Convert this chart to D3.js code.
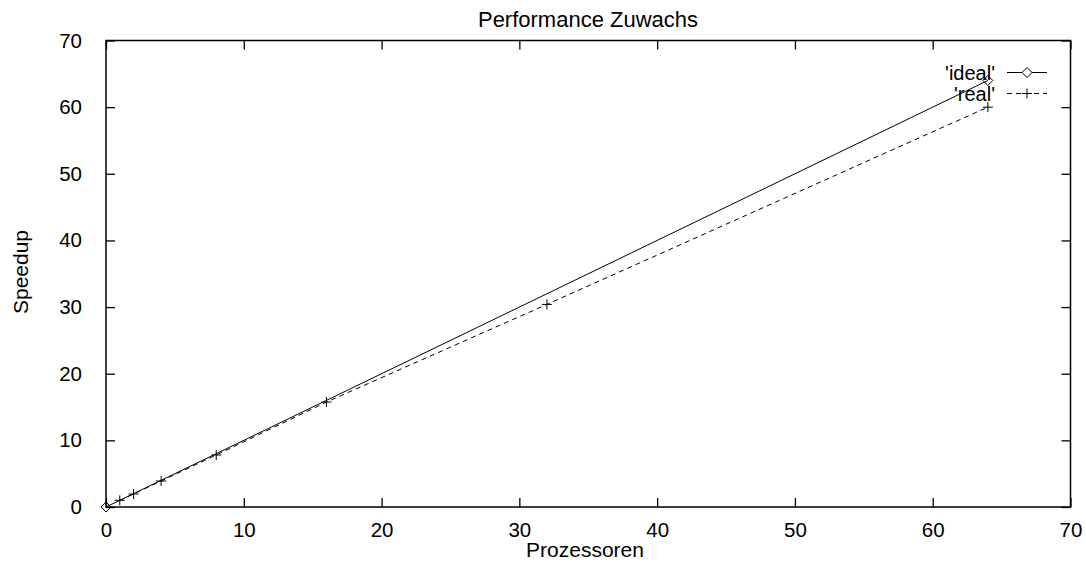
<!DOCTYPE html>
<html>
<head>
<meta charset="utf-8">
<script src="https://cdn.jsdelivr.net/npm/d3@7"></script>
<style>
  body { margin: 0; background: #fff; }
  svg text { font-family: "Liberation Sans", Arial, sans-serif; fill: #000; }
</style>
</head>
<body>
<svg class="chart" width="1086" height="564"></svg>
<script>
var idealX = [0, 64];
var idealY = [0, 64];
var realX = [1, 2, 4, 8, 16, 32, 64];
var realY = [1, 1.95, 3.9, 7.8, 15.75, 30.4, 60];
var tickValues = [0, 10, 20, 30, 40, 50, 60, 70];

var idealData = idealX.map(function(d, i) { return {x: d, y: idealY[i]}; });
var realData = realX.map(function(d, i) { return {x: d, y: realY[i]}; });

makeChart();

function makeChart() {
    var left = 106, right = 1070.5, top = 40.5, bottom = 507;
    var tickLen = 9;

    var x = d3.scaleLinear().domain([0, 70]).range([left, right]);
    var y = d3.scaleLinear().domain([0, 70]).range([bottom, top]);

    var svg = d3.select(".chart");

    // title + axis labels
    svg.append("text")
        .attr("x", 588).attr("y", 27)
        .attr("text-anchor", "middle")
        .attr("font-size", 22)
        .text("Performance Zuwachs");

    svg.append("text")
        .attr("x", 585).attr("y", 557)
        .attr("text-anchor", "middle")
        .attr("font-size", 21)
        .text("Prozessoren");

    svg.append("text")
        .attr("transform", "translate(28,272) rotate(-90)")
        .attr("text-anchor", "middle")
        .attr("font-size", 21)
        .text("Speedup");

    // axes, ticks inward, mirrored on top/right
    function styleAxis(g) {
        g.select(".domain").remove();
        g.selectAll(".tick line").attr("stroke", "#000").attr("stroke-width", 1.3);
        g.selectAll(".tick text").attr("font-size", 20.5).attr("font-family", null);
    }

    svg.append("g")
        .attr("transform", "translate(0," + bottom + ")")
        .call(d3.axisBottom(x).tickValues(tickValues).tickSizeInner(-tickLen).tickSizeOuter(0).tickPadding(15))
        .call(styleAxis);

    svg.append("g")
        .attr("transform", "translate(" + left + ",0)")
        .call(d3.axisLeft(y).tickValues(tickValues).tickSizeInner(-tickLen).tickSizeOuter(0).tickPadding(24))
        .call(styleAxis);

    svg.append("g")
        .attr("transform", "translate(0," + top + ")")
        .call(d3.axisTop(x).tickValues(tickValues).tickSizeInner(-tickLen).tickSizeOuter(0).tickFormat(""))
        .call(styleAxis);

    svg.append("g")
        .attr("transform", "translate(" + right + ",0)")
        .call(d3.axisRight(y).tickValues(tickValues).tickSizeInner(-tickLen).tickSizeOuter(0).tickFormat(""))
        .call(styleAxis);

    svg.append("rect")
        .attr("x", left).attr("y", top)
        .attr("width", right - left).attr("height", bottom - top)
        .attr("fill", "none")
        .attr("stroke", "#000")
        .attr("stroke-width", 1.5);

    var line = d3.line()
        .x(function(d) { return x(d.x); })
        .y(function(d) { return y(d.y); });

    var diamond = "M0,-5L5,0L0,5L-5,0Z";
    var plus = "M-5,0H5M0,-5V5";

    // ideal
    svg.append("path")
        .datum(idealData)
        .attr("fill", "none")
        .attr("stroke", "#000")
        .attr("stroke-width", 1)
        .attr("d", line);

    svg.selectAll(".ideal-pt")
        .data(idealData)
        .enter().append("path")
        .attr("class", "ideal-pt")
        .attr("transform", function(d) { return "translate(" + x(d.x) + "," + y(d.y) + ")"; })
        .attr("d", diamond)
        .attr("fill", "none")
        .attr("stroke", "#000")
        .attr("stroke-width", 1);

    // real
    svg.append("path")
        .datum(realData)
        .attr("fill", "none")
        .attr("stroke", "#000")
        .attr("stroke-width", 1)
        .attr("stroke-dasharray", "5,4")
        .attr("d", line);

    svg.selectAll(".real-pt")
        .data(realData)
        .enter().append("path")
        .attr("class", "real-pt")
        .attr("transform", function(d) { return "translate(" + x(d.x) + "," + y(d.y) + ")"; })
        .attr("d", plus)
        .attr("fill", "none")
        .attr("stroke", "#000")
        .attr("stroke-width", 1);

    // legend
    var legend = [
        {label: "'ideal'", dash: null, sym: diamond, y: 72.5},
        {label: "'real'", dash: "5,4", sym: plus, y: 93.5}
    ];
    var lg = svg.selectAll(".legend")
        .data(legend)
        .enter().append("g")
        .attr("class", "legend");

    lg.append("text")
        .attr("x", 995).attr("y", function(d) { return d.y; })
        .attr("dy", "0.35em")
        .attr("text-anchor", "end")
        .attr("font-size", 20)
        .text(function(d) { return d.label; });

    lg.append("line")
        .attr("x1", 1007).attr("x2", 1047)
        .attr("y1", function(d) { return d.y; })
        .attr("y2", function(d) { return d.y; })
        .attr("stroke", "#000")
        .attr("stroke-width", 1)
        .attr("stroke-dasharray", function(d) { return d.dash; });

    lg.append("path")
        .attr("transform", function(d) { return "translate(1027," + d.y + ")"; })
        .attr("d", function(d) { return d.sym; })
        .attr("fill", "#fff")
        .attr("stroke", "#000")
        .attr("stroke-width", 1);
}
</script>
</body>
</html>
